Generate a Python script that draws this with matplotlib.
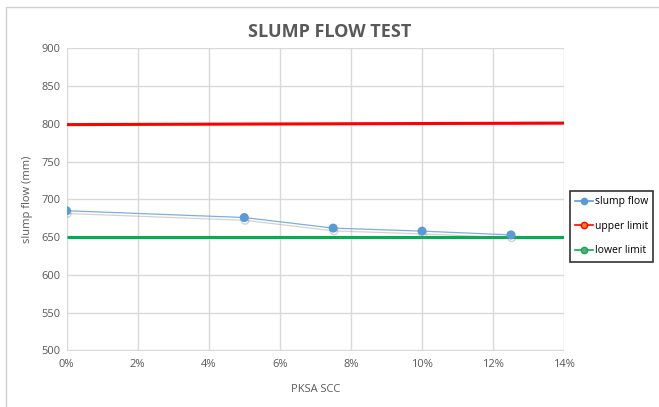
import matplotlib.pyplot as plt
import matplotlib.patheffects as pe
from matplotlib.lines import Line2D
from matplotlib.patches import Rectangle
from matplotlib.ticker import PercentFormatter

# PKSA replacement (%) and slump flow readings (mm)
pksa = [0, 5, 7.5, 10, 12.5]
slump_flow = [685, 676, 662, 658, 653]

# acceptance limits drawn across the whole axis
limit_x = [0, 14]
upper_limit = [799, 801]
lower_limit = [650, 650]

x_ticks = [0, 2, 4, 6, 8, 10, 12, 14]
y_ticks = [500, 550, 600, 650, 700, 750, 800, 850, 900]

BLUE = '#5B9BD5'
RED = '#FF0000'
GREEN = '#00B050'
TEXT = '#595959'
GRID = '#D9D9D9'

plt.rcParams['font.family'] = ['Open Sans', 'DejaVu Sans']

fig = plt.figure(figsize=(6.59, 4.07), dpi=100)
W, H = 659, 407

# chart frame
fig.patches.append(Rectangle((5.5 / W, -0.1), 1.2, 1 - 6.5 / H + 0.1,
                             transform=fig.transFigure, fill=False,
                             edgecolor='#D0D0D0', linewidth=1))

ax = fig.add_axes([66.5 / W, 1 - 350.5 / H, (564.3 - 66.5) / W, (350.5 - 48.3) / H])

ax.plot(limit_x, upper_limit, color=RED, linewidth=2.2, solid_capstyle='butt', zorder=3)
ax.plot(limit_x, lower_limit, color=GREEN, linewidth=2.2, solid_capstyle='butt', zorder=3)
ax.plot(pksa, slump_flow, color='#7FAEDD', linewidth=0.9, marker='o', markersize=5.5,
        markerfacecolor=BLUE, markeredgecolor=BLUE, zorder=4,
        path_effects=[pe.SimpleLineShadow(offset=(0.5, -2), shadow_color='#808080', alpha=0.35),
                      pe.Normal()])

ax.set_xlim(0, 14)
ax.set_ylim(500, 900)
ax.set_xticks(x_ticks)
ax.set_yticks(y_ticks)
ax.xaxis.set_major_formatter(PercentFormatter(decimals=0))
ax.grid(True, color=GRID, linewidth=1)
ax.set_axisbelow(True)
for s in ax.spines.values():
    s.set_visible(False)
ax.tick_params(length=0, labelsize=8, labelcolor=TEXT, pad=6)
ax.tick_params(axis='y', pad=4)

ax.set_xlabel('PKSA SCC', fontsize=8, color=TEXT, labelpad=10)
ax.set_ylabel('slump flow (mm)', fontsize=8, color=TEXT, labelpad=6)
fig.text(330 / W, 1 - 32 / H, 'SLUMP FLOW TEST', fontsize=13, fontweight='bold',
         color=TEXT, ha='center', va='center')

handles = [
    Line2D([], [], color=BLUE, marker='o', markersize=4.5, markerfacecolor=BLUE,
           markeredgecolor=BLUE, linewidth=1.2),
    Line2D([], [], color=RED, marker='o', markersize=4.5, markerfacecolor='#FF7F27',
           markeredgecolor=RED, linewidth=1.2),
    Line2D([], [], color=GREEN, marker='o', markersize=4.5, markerfacecolor='#70A080',
           markeredgecolor=GREEN, linewidth=1.2),
]
leg = fig.legend(handles, ['slump flow', 'upper limit', 'lower limit'],
                 loc='upper left', bbox_to_anchor=(570 / W, 1 - 191 / H),
                 fontsize=7.5, frameon=True, fancybox=False, edgecolor='black',
                 handlelength=1.7, handletextpad=0.2, labelspacing=1.3,
                 borderpad=0.5, borderaxespad=0)
leg.get_frame().set_linewidth(1.2)

fig.savefig('out.png', dpi=100)
